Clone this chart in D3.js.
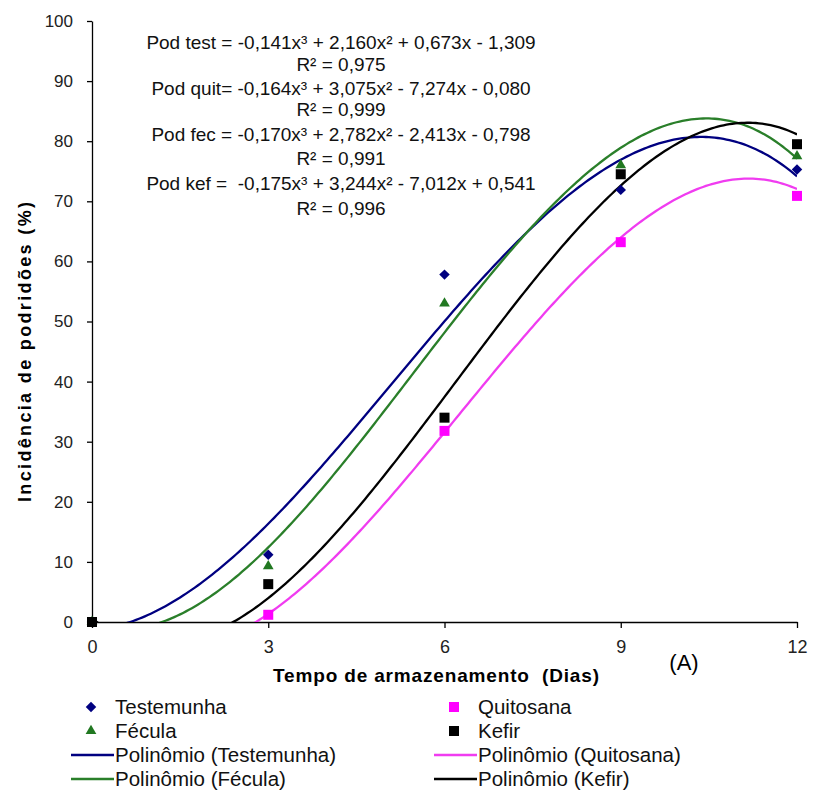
<!DOCTYPE html>
<html>
<head>
<meta charset="utf-8">
<script src="https://cdn.jsdelivr.net/npm/d3@7"></script>
<style>
  body { margin: 0; background: #fff; }
  text { font-family: "Liberation Sans", Arial, sans-serif; white-space: pre; }
</style>
</head>
<body>
<div id="chart"></div>
<script>
// values
const days = [0, 3, 6, 9, 12]
const testemunha = [0, 11.2, 57.8, 71.9, 75.3]
const fecula = [0, 9.3, 53.0, 76.0, 77.5]
const quitosana = [0, 1.2, 31.8, 63.2, 70.9]
const kefir = [0, 6.3, 34.0, 74.5, 79.5]

// trendline coefficients as printed on the chart (x³, x², x, const)
const coefTest = [-0.141, 2.160, 0.673, -1.309]
const coefQuit = [-0.164, 3.075, -7.274, -0.080]
const coefFec = [-0.170, 2.782, -2.413, -0.798]
const coefKef = [-0.175, 3.244, -7.012, 0.541]

const equations = [
  "Pod test = -0,141x³ + 2,160x² + 0,673x - 1,309", "R² = 0,975",
  "Pod quit= -0,164x³ + 3,075x² - 7,274x - 0,080", "R² = 0,999",
  "Pod fec = -0,170x³ + 2,782x² - 2,413x - 0,798", "R² = 0,991",
  "Pod kef =  -0,175x³ + 3,244x² - 7,012x + 0,541", "R² = 0,996"
]

const xTicks = [0, 3, 6, 9, 12]
const yTicks = [0, 10, 20, 30, 40, 50, 60, 70, 80, 90, 100]

const series = [
  {name: "Testemunha", values: testemunha, coef: coefTest, color: "#000080", line: "#000080", shape: "diamond"},
  {name: "Fécula", values: fecula, coef: coefFec, color: "#217821", line: "#2a7f2a", shape: "triangle"},
  {name: "Quitosana", values: quitosana, coef: coefQuit, color: "#ff00ff", line: "#f03cf0", shape: "square"},
  {name: "Kefir", values: kefir, coef: coefKef, color: "#000000", line: "#000000", shape: "square"}
]

const W = 814, H = 794

const svg = d3.select("#chart")
  .append("svg")
    .attr("width", W)
    .attr("height", H)

const x = d3.scaleLinear().domain([0, 12]).range([92, 797])
const y = d3.scaleLinear().domain([0, 100]).range([622, 21])

// clip for the trendlines
svg.append("clipPath").attr("id", "plotclip")
  .append("rect")
    .attr("x", x(0)).attr("y", y(100))
    .attr("width", x(12) - x(0)).attr("height", y(0) - y(100))

// y axis
const yAxis = svg.append("g")
  .attr("transform", `translate(${x(0)},0)`)
  .call(d3.axisLeft(y).tickValues(yTicks).tickSize(5).tickSizeOuter(0).tickPadding(14))
yAxis.select(".domain").attr("stroke", "#000").attr("stroke-width", 1.3)
yAxis.selectAll(".tick line").attr("stroke", "#000").attr("stroke-width", 1.3)
yAxis.selectAll("text").style("font-size", "17px").attr("fill", "#222")
  .style("font-family", "'Liberation Sans', Arial, sans-serif")

// x axis
const xAxis = svg.append("g")
  .attr("transform", `translate(0,${y(0)})`)
  .call(d3.axisBottom(x).tickValues(xTicks).tickSize(6).tickSizeOuter(0).tickPadding(12))
xAxis.select(".domain").attr("stroke", "#000").attr("stroke-width", 1.3)
xAxis.selectAll(".tick line").attr("stroke", "#000").attr("stroke-width", 1.3)
xAxis.selectAll("text").style("font-size", "18px").attr("fill", "#222")
  .style("font-family", "'Liberation Sans', Arial, sans-serif")

// polynomial trendlines
const poly = (c, t) => c[0] * t * t * t + c[1] * t * t + c[2] * t + c[3]
const line = d3.line()
  .x(d => x(d[0]))
  .y(d => y(d[1]))

const lines = svg.append("g").attr("clip-path", "url(#plotclip)")
series.forEach(s => {
  const pts = d3.range(0, 12.0001, 0.05).map(t => [t, poly(s.coef, t)])
  lines.append("path")
    .datum(pts)
    .attr("d", line)
    .attr("fill", "none")
    .attr("stroke", s.line)
    .attr("stroke-width", 2.3)
})

// markers
function marker(sel, shape, color) {
  if (shape === "diamond") {
    sel.append("path")
      .attr("d", d3.symbol().type(d3.symbolSquare).size(55)())
      .attr("transform", "rotate(45)")
      .attr("fill", color)
  } else if (shape === "triangle") {
    sel.append("path")
      .attr("d", d3.symbol().type(d3.symbolTriangle).size(50)())
      .attr("fill", color)
  } else {
    sel.append("path")
      .attr("d", d3.symbol().type(d3.symbolSquare).size(100)())
      .attr("fill", color)
  }
}

series.forEach(s => {
  s.values.forEach((v, i) => {
    const g = svg.append("g").attr("transform", `translate(${x(days[i])},${y(v)})`)
    marker(g, s.shape, s.color)
  })
})

// equations
svg.append("g").selectAll("text")
  .data(equations)
  .enter()
  .append("text")
    .attr("x", 341)
    .attr("y", (d, i) => [49, 71, 95, 116, 141, 165, 190, 215][i])
    .attr("text-anchor", "middle")
    .style("font-size", "19px")
    .attr("fill", "#111")
    .text(d => d)

// axis titles
svg.append("text")
  .attr("transform", "translate(31,352) rotate(-90)")
  .attr("text-anchor", "middle")
  .style("font-size", "18px").style("font-weight", "bold")
  .attr("textLength", 300).attr("lengthAdjust", "spacing")
  .text("Incidência de podridões (%)")

svg.append("text")
  .attr("x", 436)
  .attr("y", 682)
  .attr("text-anchor", "middle")
  .style("font-size", "19px").style("font-weight", "bold")
  .attr("textLength", 326).attr("lengthAdjust", "spacing")
  .text("Tempo de armazenamento  (Dias)")

svg.append("text")
  .attr("x", 684)
  .attr("y", 670)
  .attr("text-anchor", "middle")
  .style("font-size", "22px")
  .text("(A)")

// legend
const legendItems = [
  {label: "Testemunha", s: 0, kind: "marker", col: 0, row: 0},
  {label: "Quitosana", s: 2, kind: "marker", col: 1, row: 0},
  {label: "Fécula", s: 1, kind: "marker", col: 0, row: 1},
  {label: "Kefir", s: 3, kind: "marker", col: 1, row: 1},
  {label: "Polinômio (Testemunha)", s: 0, kind: "line", col: 0, row: 2},
  {label: "Polinômio (Quitosana)", s: 2, kind: "line", col: 1, row: 2},
  {label: "Polinômio (Fécula)", s: 1, kind: "line", col: 0, row: 3},
  {label: "Polinômio (Kefir)", s: 3, kind: "line", col: 1, row: 3}
]
const colX = [71, 434]
const rowY = [707, 731, 755, 779]

legendItems.forEach(d => {
  const s = series[d.s]
  const g = svg.append("g").attr("transform", `translate(${colX[d.col]},${rowY[d.row]})`)
  if (d.kind === "marker") {
    const m = g.append("g").attr("transform", "translate(20,0)")
    marker(m, s.shape, s.color)
  } else {
    g.append("line")
      .attr("x1", 0).attr("x2", 43)
      .attr("stroke", s.line).attr("stroke-width", 2.3)
  }
  g.append("text")
    .attr("x", 44)
    .attr("dy", "0.35em")
    .style("font-size", "20.5px")
    .attr("fill", "#111")
    .text(d.label)
})
</script>
</body>
</html>
